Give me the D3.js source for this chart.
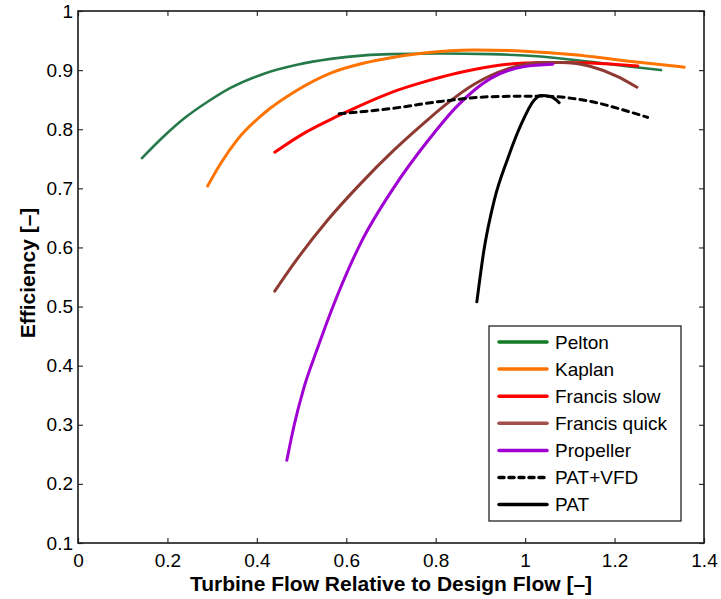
<!DOCTYPE html>
<html>
<head>
<meta charset="utf-8">
<script src="https://cdn.jsdelivr.net/npm/d3@7"></script>
<style>
  body { margin: 0; background: #fff; }
  svg { font-family: "Liberation Sans", Arial, Helvetica, sans-serif; }
  .tick text { font-size: 19px; fill: #000; }
</style>
</head>
<body>
<div id="chart"></div>
<script>
// values
var xTicks = [0, 0.2, 0.4, 0.6, 0.8, 1, 1.2, 1.4];
var yTicks = [0.1, 0.2, 0.3, 0.4, 0.5, 0.6, 0.7, 0.8, 0.9, 1];

var peltonX = [0.143, 0.192, 0.237, 0.289, 0.341, 0.416, 0.490, 0.565, 0.640, 0.700, 0.811, 0.923, 1.035, 1.147, 1.222, 1.304];
var peltonY = [0.751, 0.788, 0.818, 0.846, 0.870, 0.894, 0.909, 0.919, 0.925, 0.927, 0.928, 0.927, 0.923, 0.914, 0.907, 0.900];

var kaplanX = [0.290, 0.319, 0.356, 0.416, 0.490, 0.565, 0.640, 0.700, 0.774, 0.886, 0.998, 1.110, 1.222, 1.356];
var kaplanY = [0.704, 0.742, 0.782, 0.827, 0.866, 0.895, 0.912, 0.921, 0.929, 0.934, 0.932, 0.926, 0.916, 0.905];

var francisSlowX = [0.440, 0.505, 0.580, 0.640, 0.700, 0.774, 0.849, 0.923, 0.998, 1.073, 1.147, 1.252];
var francisSlowY = [0.761, 0.793, 0.822, 0.843, 0.862, 0.880, 0.895, 0.906, 0.912, 0.913, 0.912, 0.907];

var francisQuickX = [0.440, 0.483, 0.558, 0.632, 0.707, 0.782, 0.823, 0.886, 0.961, 1.035, 1.088, 1.147, 1.207, 1.250];
var francisQuickY = [0.526, 0.573, 0.646, 0.708, 0.765, 0.816, 0.842, 0.876, 0.902, 0.913, 0.913, 0.906, 0.889, 0.871];

var propellerX = [0.467, 0.483, 0.505, 0.535, 0.565, 0.632, 0.707, 0.782, 0.849, 0.923, 0.998, 1.062];
var propellerY = [0.240, 0.298, 0.362, 0.428, 0.490, 0.607, 0.702, 0.780, 0.840, 0.886, 0.906, 0.910];

var patVfdX = [0.584, 0.700, 0.811, 0.923, 1.035, 1.147, 1.222, 1.274];
var patVfdY = [0.826, 0.835, 0.847, 0.855, 0.856, 0.847, 0.832, 0.820];

var patX = [0.892, 0.908, 0.931, 0.961, 0.991, 1.020, 1.035, 1.058, 1.076];
var patY = [0.508, 0.596, 0.680, 0.750, 0.808, 0.849, 0.857, 0.855, 0.845];

var series = [
  {name: "Pelton", x: peltonX, y: peltonY, color: "#267a4a", key: "#117a22", width: 2.6, dash: null},
  {name: "Kaplan", x: kaplanX, y: kaplanY, color: "#ff7300", key: "#ff7300", width: 3, dash: null},
  {name: "Francis slow", x: francisSlowX, y: francisSlowY, color: "#ff0000", key: "#ff0000", width: 3, dash: null},
  {name: "Francis quick", x: francisQuickX, y: francisQuickY, color: "#8e3a33", key: "#a3504c", width: 3, dash: null},
  {name: "Propeller", x: propellerX, y: propellerY, color: "#a000d2", key: "#a000d2", width: 3, dash: null},
  {name: "PAT+VFD", x: patVfdX, y: patVfdY, color: "#000", key: "#000", width: 3, dash: "6,5"},
  {name: "PAT", x: patX, y: patY, color: "#000", key: "#000", width: 3, dash: null}
];

var margin = {top: 11, right: 17, bottom: 56, left: 78},
    width = 721 - margin.left - margin.right,
    height = 599 - margin.top - margin.bottom;

var xScale = d3.scaleLinear().domain([0, 1.4]).range([0, width]);
var yScale = d3.scaleLinear().domain([0.1, 1]).range([height, 0]);

var svg = d3.select("#chart").append("svg")
    .attr("width", 721)
    .attr("height", 599)
  .append("g")
    .attr("transform", "translate(" + margin.left + "," + margin.top + ")");

// axes, ticks pointing inward on all four sides
var fmt = function(d) { return d3.format("")(+d.toFixed(1)); };

svg.append("g")
    .attr("class", "x axis")
    .attr("transform", "translate(0," + height + ")")
    .call(d3.axisBottom(xScale).tickValues(xTicks).tickSizeInner(-5).tickSizeOuter(0).tickPadding(13).tickFormat(fmt));

svg.append("g")
    .attr("class", "y axis")
    .call(d3.axisLeft(yScale).tickValues(yTicks).tickSizeInner(-5).tickSizeOuter(0).tickPadding(5).tickFormat(fmt));

svg.append("g")
    .attr("class", "x2 axis")
    .call(d3.axisTop(xScale).tickValues(xTicks).tickSizeInner(-5).tickSizeOuter(0).tickFormat(""));

svg.append("g")
    .attr("class", "y2 axis")
    .attr("transform", "translate(" + width + ",0)")
    .call(d3.axisRight(yScale).tickValues(yTicks).tickSizeInner(-5).tickSizeOuter(0).tickFormat(""));

svg.selectAll(".axis .domain").remove();
svg.selectAll(".axis .tick line").attr("stroke", "#333").attr("stroke-width", 1.2);
svg.selectAll(".x.axis .tick text").attr("dy", "0.6em");

svg.append("rect")
    .attr("width", width)
    .attr("height", height)
    .attr("fill", "none")
    .attr("stroke", "#1a1a1a")
    .attr("stroke-width", 1.6);

// curves
var line = d3.line()
    .x(function(d) { return xScale(d[0]); })
    .y(function(d) { return yScale(d[1]); })
    .curve(d3.curveMonotoneX);

series.forEach(function(s) {
  svg.append("path")
    .datum(d3.zip(s.x, s.y))
    .attr("fill", "none")
    .attr("stroke", s.color)
    .attr("stroke-width", s.width)
    .attr("stroke-linecap", "round")
    .attr("stroke-dasharray", s.dash)
    .attr("d", line);
});

// legend
var legend = svg.append("g")
    .attr("transform", "translate(" + (489 - margin.left) + "," + (326 - margin.top) + ")");

legend.append("rect")
    .attr("width", 192)
    .attr("height", 195)
    .attr("fill", "#fff")
    .attr("stroke", "#222")
    .attr("stroke-width", 1.3);

series.forEach(function(s, i) {
  var y = 16 + i * 27.1;
  legend.append("line")
    .attr("x1", 10).attr("x2", 58)
    .attr("y1", y).attr("y2", y)
    .attr("stroke", s.key)
    .attr("stroke-width", 3.5)
    .attr("stroke-linecap", "round")
    .attr("stroke-dasharray", s.dash ? "5,5" : null);
  legend.append("text")
    .attr("x", 66)
    .attr("y", y)
    .attr("dy", "0.36em")
    .style("font-size", "19px")
    .text(s.name);
});

// axis titles
svg.append("text")
    .attr("text-anchor", "middle")
    .attr("x", width / 2)
    .attr("y", height + 48)
    .style("font-size", "21px")
    .style("font-weight", "bold")
    .text("Turbine Flow Relative to Design Flow [\u2013]");

svg.append("text")
    .attr("text-anchor", "middle")
    .attr("transform", "rotate(-90)")
    .attr("x", -262)
    .attr("y", -margin.left + 35)
    .style("font-size", "21px")
    .style("font-weight", "bold")
    .text("Efficiency [\u2013]");
</script>
</body>
</html>
